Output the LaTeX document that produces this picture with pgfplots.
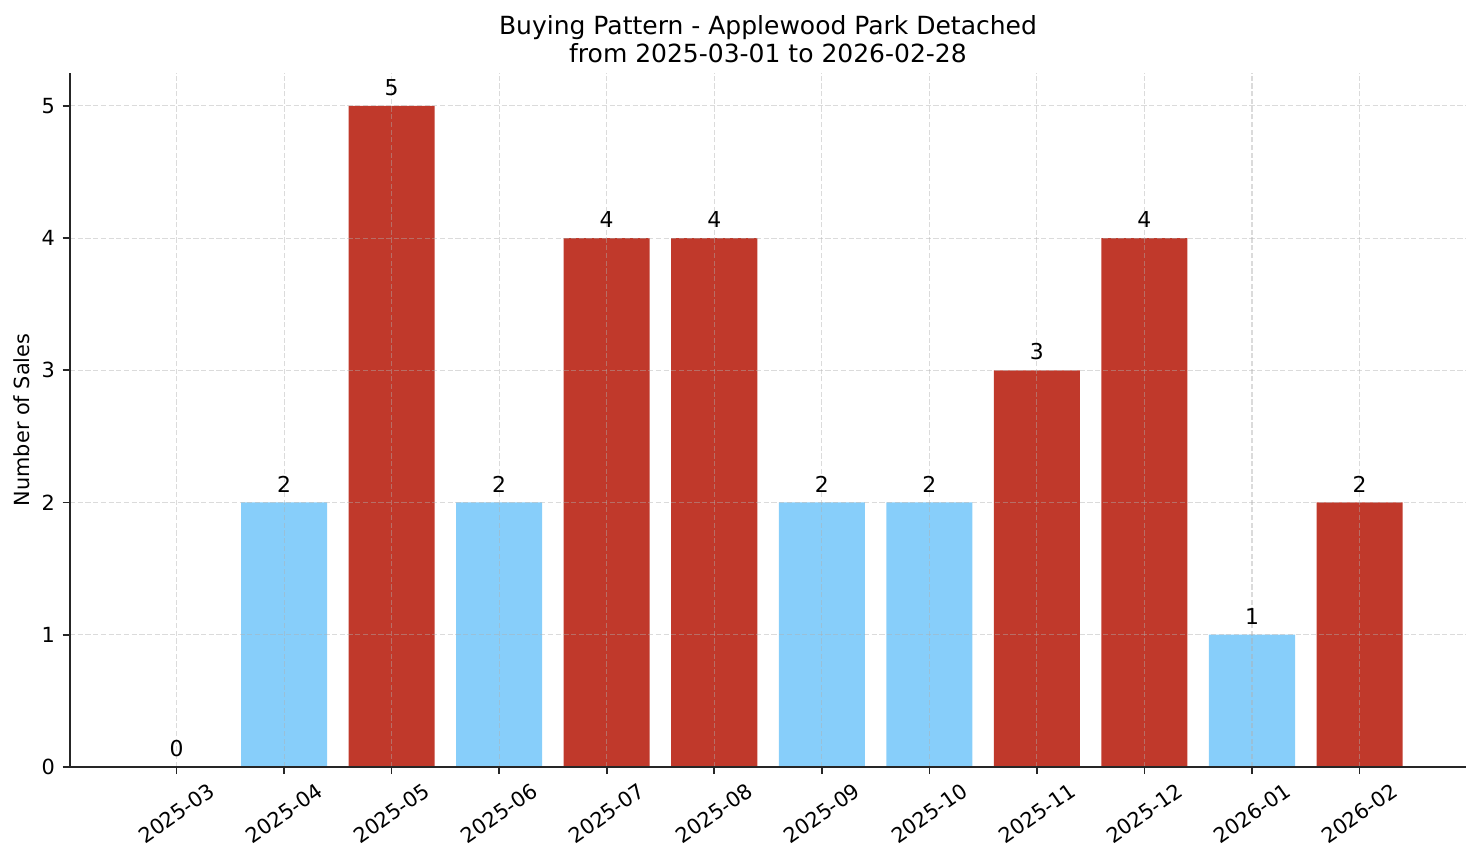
\documentclass[border=0pt]{standalone}
\usepackage{fontspec}
\setmainfont{DejaVu Sans}
\usepackage{pgfplots}
\pgfplotsset{compat=1.18}
\definecolor{barred}{HTML}{C0392B}
\definecolor{barblue}{HTML}{87CEFA}
\definecolor{gridc}{HTML}{B0B0B0}
\newcommand{\rl}[1]{\rotatebox{35}{#1}}
\begin{document}
\begin{tikzpicture}
\useasboundingbox (-33.6bp,-46.1bp) rectangle (677.3bp,368.1bp);
\begin{axis}[
  scale only axis,
  width=670.1bp, height=333.1bp,
  xmin=-0.99, xmax=11.99,
  ymin=0, ymax=5.25,
  axis lines*=left,
  axis line style={black!85, line width=0.8bp},
  every tick/.style={black!85, line width=0.8bp},
  tick align=outside,
  major tick length=3.5bp,
  xtick={0,...,11},
  xticklabels={\rl{2025-03},\rl{2025-04},\rl{2025-05},\rl{2025-06},\rl{2025-07},\rl{2025-08},\rl{2025-09},\rl{2025-10},\rl{2025-11},\rl{2025-12},\rl{2026-01},\rl{2026-02}},
  xticklabel style={anchor=north, inner sep=0pt, yshift=-3.5bp, font=\fontsize{10bp}{12bp}\selectfont},
  ytick={0,1,2,3,4,5},
  yticklabel style={anchor=east, inner sep=0pt, xshift=-3.5bp, font=\fontsize{10bp}{12bp}\selectfont},
  /pgf/number format/assume math mode=true,
  grid=major,
  major grid style={gridc, opacity=0.45, dash pattern=on 2.5bp off 1.2bp, line width=0.5bp},
  axis on top,
  ylabel={Number of Sales},
  ylabel style={font=\fontsize{10bp}{12bp}\selectfont, yshift=2bp},
  title={Buying Pattern - Applewood Park Detached\\from 2025-03-01 to 2026-02-28},
  title style={align=center, font=\fontsize{12bp}{13.6bp}\selectfont, yshift=-4.8bp},
  ybar, bar width=0.8, bar shift=0pt,
  nodes near coords,
  nodes near coords style={anchor=south, inner sep=0pt, yshift=4.8bp, font=\fontsize{10.5bp}{12bp}\selectfont, text=black},
]
\addplot[fill=barblue, draw=none] coordinates {(0,0) (1,2) (3,2) (6,2) (7,2) (10,1)};
\addplot[fill=barred, draw=none] coordinates {(2,5) (4,4) (5,4) (8,3) (9,4) (11,2)};
\end{axis}
\end{tikzpicture}
\end{document}
